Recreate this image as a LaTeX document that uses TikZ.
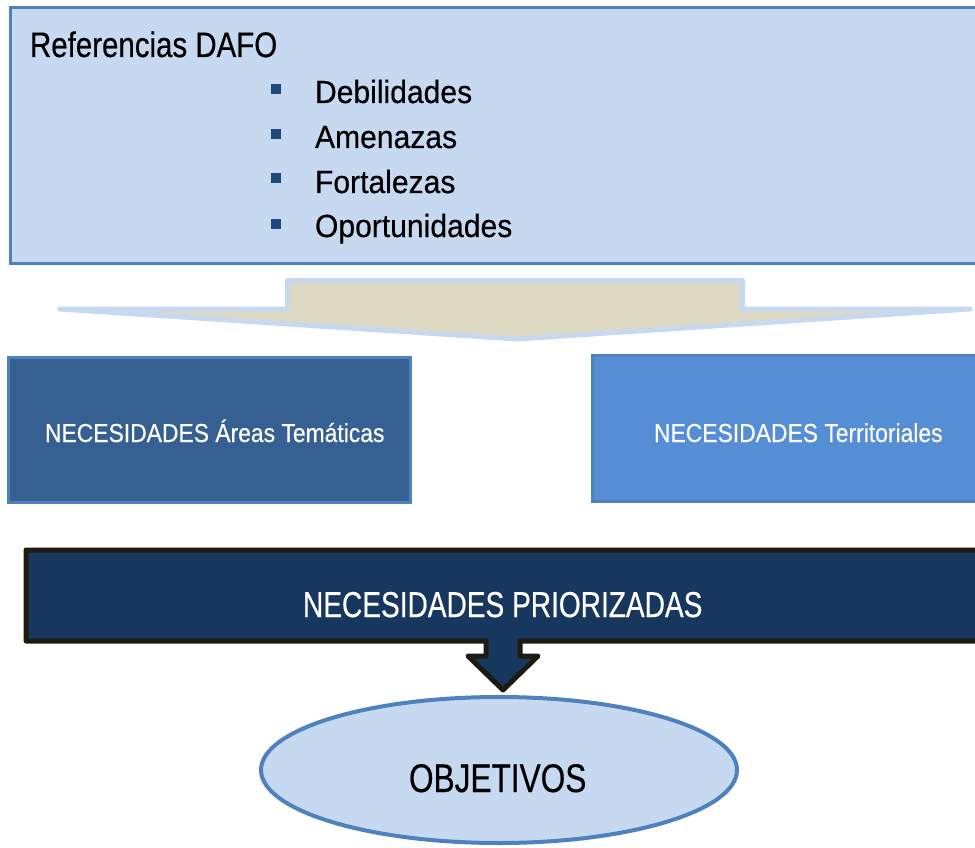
\documentclass[tikz,border=0pt]{standalone}
\usepackage{fontspec}
\setmainfont{Liberation Sans}
\newfontfamily\fnthead[FakeStretch=0.83,FakeBold=0.4]{Liberation Sans}
\newfontfamily\fntitem[FakeStretch=0.94,FakeBold=0.4]{Liberation Sans}
\newfontfamily\fntboxes[FakeStretch=0.88,FakeBold=0.3]{Liberation Sans}
\newfontfamily\fntprio[FakeStretch=0.78,FakeBold=0.4]{Liberation Sans}
\newfontfamily\fntobj[FakeStretch=0.79,FakeBold=0.4]{Liberation Sans}
\usetikzlibrary{shapes.geometric,calc}
\definecolor{lightfill}{HTML}{C6D9F1}
\definecolor{bordblue}{HTML}{4F81BD}
\definecolor{tanfill}{HTML}{DDD9C3}
\definecolor{steelbox}{HTML}{366092}
\definecolor{midbox}{HTML}{558ED5}
\definecolor{navybar}{HTML}{17375E}
\definecolor{darkline}{HTML}{1D1B10}
\definecolor{bulletblue}{HTML}{1F497D}
\tikzset{
  plainbox/.style={rectangle, inner sep=0pt, outer sep=0pt, anchor=north west},
  txt/.style={inner sep=0pt, outer sep=0pt, anchor=base west},
  bulletsq/.style={rectangle, fill=bulletblue, inner sep=0pt, minimum size=10pt},
}
\begin{document}
\begin{tikzpicture}[x=1pt,y=-1pt]
\clip (0,0) rectangle (975,848);
\fill[white] (0,0) rectangle (975,848);

% top box
\node[plainbox, draw=bordblue, fill=lightfill, line width=3pt,
      minimum width=980pt, minimum height=255.5pt] (dafo) at (10,8) {};
\node[txt, font=\fnthead\fontsize{35.5}{40}\selectfont] (head) at (30,57) {Referencias DAFO};
\node[bulletsq] (b1) at (276,89.5) {};
\node[bulletsq] (b2) at (276,134) {};
\node[bulletsq] (b3) at (276,178.5) {};
\node[bulletsq] (b4) at (276,223.5) {};
\node[txt, font=\fntitem\fontsize{32}{36}\selectfont] (i1) at (315,103) {Debilidades};
\node[txt, font=\fntitem\fontsize{32}{36}\selectfont] (i2) at (315,148) {Amenazas};
\node[txt, font=\fntitem\fontsize{32}{36}\selectfont] (i3) at (315,193) {Fortalezas};
\node[txt, font=\fntitem\fontsize{32}{36}\selectfont] (i4) at (315,237) {Oportunidades};

% block arrow
\coordinate (s1) at (287.5,280.5);
\coordinate (s2) at (742.5,280.5);
\coordinate (tip) at (517,339);
\draw[draw=lightfill, fill=tanfill, line width=5pt, line join=round]
  (s1) -- (s2) -- (742.5,309) -- (970,309) -- (tip) -- (60,309) -- (287.5,309) -- cycle;

% two boxes
\node[plainbox, draw=bordblue, fill=steelbox, line width=3pt,
      minimum width=402pt, minimum height=145pt] (tem) at (8.5,357.5) {};
\node[txt, text=white, font=\fntboxes\fontsize{26}{30}\selectfont] (temt) at (45,442) {NECESIDADES Áreas Temáticas};
\node[plainbox, draw=bordblue, fill=midbox, line width=3pt,
      minimum width=400pt, minimum height=146pt] (ter) at (592.5,355.5) {};
\node[txt, text=white, font=\fntboxes\fontsize{26}{30}\selectfont] (tert) at (654,442) {NECESIDADES Territoriales};

% priorizadas bar with down arrow callout
\node[plainbox, minimum width=964pt, minimum height=91pt] (prio) at (26,550) {};
\draw[draw=darkline, fill=navybar, line width=5pt, line join=round]
  (prio.north west) -- (prio.north east) -- (prio.south east)
  -- (520,641) -- (520,656) -- (538,656) -- (503,690) -- (468,656) -- (486,656) -- (486,641)
  -- (prio.south west) -- cycle;
\node[txt, text=white, font=\fntprio\fontsize{36}{40}\selectfont] (priot) at (303,617) {NECESIDADES PRIORIZADAS};

% objetivos
\node[ellipse, draw=bordblue, fill=lightfill, line width=4pt, inner sep=0pt, outer sep=0pt,
      minimum width=476pt, minimum height=146pt] (obj) at (499,770) {};
\node[txt, font=\fntobj\fontsize{40}{44}\selectfont] (objt) at (409,792) {OBJETIVOS};
\end{tikzpicture}
\end{document}
